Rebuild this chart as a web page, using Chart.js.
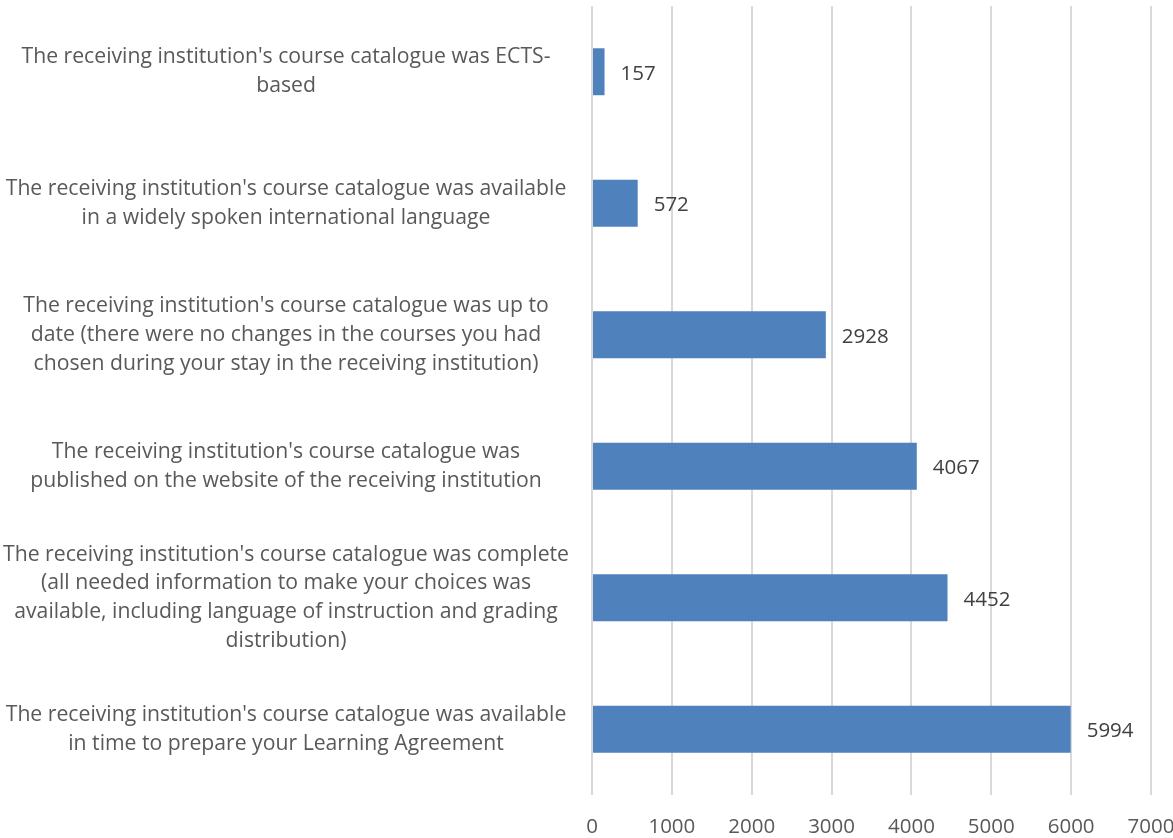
<!DOCTYPE html>
<html>
<head>
<meta charset="utf-8">
<script src="https://cdn.jsdelivr.net/npm/chart.js@4"></script>
<style>
html,body{margin:0;padding:0;background:#fff;overflow:hidden;width:1173px;height:838px;}
#wrap{position:relative;width:1200px;height:838px;}
</style>
</head>
<body>
<div id="wrap"><canvas id="c" width="1200" height="838"></canvas></div>
<script>
const categories = [
  ["The receiving institution's course catalogue was ECTS-", "based"],
  ["The receiving institution's course catalogue was available", "in a widely spoken international language"],
  ["The receiving institution's course catalogue was up to", "date (there were no changes in the courses you had", "chosen during your stay in the receiving institution)"],
  ["The receiving institution's course catalogue was", "published on the website of the receiving institution"],
  ["The receiving institution's course catalogue was complete", "(all needed information to make your choices was", "available, including language of instruction and grading", "distribution)"],
  ["The receiving institution's course catalogue was available", "in time to prepare your Learning Agreement"]
];
const values = [157, 572, 2928, 4067, 4452, 5994];
const xTicks = [0, 1000, 2000, 3000, 4000, 5000, 6000, 7000];

const FONT = '"Open Sans", Lato, sans-serif';

const dataLabels = {
  id: 'dataLabels',
  afterDatasetsDraw(chart) {
    const ctx = chart.ctx;
    const meta = chart.getDatasetMeta(0);
    ctx.save();
    ctx.font = '20.5px ' + FONT;
    ctx.fillStyle = '#404040';
    ctx.textAlign = 'left';
    ctx.textBaseline = 'middle';
    meta.data.forEach((bar, i) => {
      ctx.fillText(String(values[i]), bar.x + 16, bar.y + 2);
    });
    ctx.restore();
  }
};

new Chart(document.getElementById('c'), {
  type: 'bar',
  data: {
    labels: categories,
    datasets: [{
      data: values,
      backgroundColor: '#4f81bd',
      borderWidth: 0,
      categoryPercentage: 1,
      barPercentage: 0.357
    }]
  },
  options: {
    indexAxis: 'y',
    responsive: false,
    animation: false,
    devicePixelRatio: 1,
    layout: { padding: { top: 6, right: 49, bottom: 0, left: 0 } },
    plugins: { legend: { display: false }, tooltip: { enabled: false } },
    scales: {
      x: {
        min: 0, max: 7000,
        afterBuildTicks(scale) { scale.ticks = xTicks.map(v => ({ value: v })); },
        afterFit(scale) { scale.height = 43; scale.paddingLeft = 0; scale.paddingRight = 0; },
        grid: { color: '#d9d9d9', lineWidth: 2, drawTicks: false },
        border: { display: false },
        ticks: {
          color: '#595959', font: { family: FONT, size: 20.5 }, padding: 20,
          callback: (v) => String(v)
        }
      },
      y: {
        afterFit(scale) { scale.width = 592; scale.paddingTop = 0; scale.paddingBottom = 0; },
        grid: { display: false, drawTicks: false },
        border: { display: false },
        ticks: {
          color: '#595959',
          font: { family: FONT, size: 21.2, lineHeight: 1.36 },
          crossAlign: 'center',
          padding: 23,
          autoSkip: false
        }
      }
    }
  },
  plugins: [dataLabels]
});
</script>
</body>
</html>
